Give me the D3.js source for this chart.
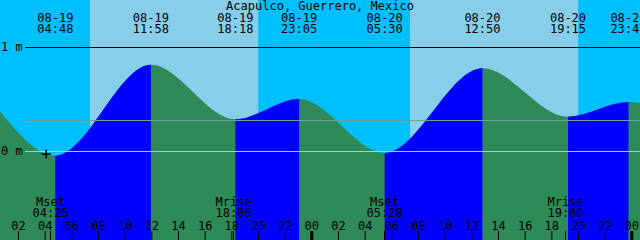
<!DOCTYPE html>
<html>
<head>
<meta charset="utf-8">
<script src="https://cdn.jsdelivr.net/npm/d3@7"></script>
<style>
  body { margin: 0; background: #fff; }
  svg { display: block; }
  text { font-family: "DejaVu Sans Mono", monospace; font-size: 12px; fill: #000; }
</style>
</head>
<body>
<svg id="chart" width="640" height="240"></svg>
<script>
// chart window
var windowTimes = ["08-19 00:39", "08-21 00:39"];
// highs and lows
var eventTimes = ["08-19 04:48", "08-19 11:58", "08-19 18:18", "08-19 23:05",
                  "08-20 05:30", "08-20 12:50", "08-20 19:15", "08-20 23:47"];
var eventLevels = [-0.045, 0.83, 0.305, 0.50, -0.02, 0.795, 0.33, 0.47];
var edgeLevels = [0.38, 0.46]; // level at left and right edge
// sun
var sunriseTimes = ["08-19 07:24", "08-20 07:24"];
var sunsetTimes = ["08-19 20:01", "08-20 20:01"];
// moon
var moonTimes = ["08-19 04:25", "08-19 18:06", "08-20 05:28", "08-20 19:00"];
var moonNames = ["Mset", "Mrise", "Mset", "Mrise"];
// level lines
var lineLevels = [1, 0.3, 0];
var lineLabels = ["1 m", "", "0 m"];
// mark
var markTime = "08-19 04:07";
var markLevel = -0.03;

var title = "Acapulco, Guerrero, Mexico";

function init() {
  var svg = d3.select("#chart");
  var width = 640, height = 240;
  var parse = d3.utcParse("%m-%d %H:%M");

  var x = d3.scaleUtc()
    .domain(windowTimes.map(parse))
    .range([0, width]);
  var y = d3.scaleLinear()
    .domain([0, 1])
    .range([151, 47]);

  // sky: night first, then day on top
  svg.append("rect")
     .attr("width", width).attr("height", height)
     .attr("fill", "#00BFFF");
  svg.selectAll(".day")
     .data(sunriseTimes)
     .enter()
     .append("rect")
     .attr("class", "day")
     .attr("x", function(d) { return x(parse(d)); })
     .attr("y", 0)
     .attr("width", function(d, i) { return x(parse(sunsetTimes[i])) - x(parse(d)); })
     .attr("height", height)
     .attr("fill", "#87CEEB");

  // tide
  var points = [{ t: parse(windowTimes[0]), v: edgeLevels[0] }];
  eventTimes.forEach(function(d, i) { points.push({ t: parse(d), v: eventLevels[i] }); });
  points.push({ t: parse(windowTimes[1]), v: edgeLevels[1] });

  var area = d3.area()
    .x(function(d) { return x(d.t); })
    .y0(height)
    .y1(function(d) { return y(d.v); })
    .curve(d3.curveMonotoneX);

  // flood = low -> high
  var floods = [];
  for (var i = 0; i < eventTimes.length - 1; i++) {
    if (eventLevels[i + 1] > eventLevels[i]) floods.push([eventTimes[i], eventTimes[i + 1]]);
  }
  var clip = svg.append("clipPath").attr("id", "flood-clip");
  clip.selectAll("rect")
     .data(floods)
     .enter()
     .append("rect")
     .attr("x", function(d) { return x(parse(d[0])); })
     .attr("y", 0)
     .attr("width", function(d) { return x(parse(d[1])) - x(parse(d[0])); })
     .attr("height", height);

  svg.append("path")
     .datum(points)
     .attr("d", area)
     .attr("fill", "#2E8B57");
  svg.append("path")
     .datum(points)
     .attr("d", area)
     .attr("fill", "#0000FF")
     .attr("clip-path", "url(#flood-clip)");

  // level lines
  var lineColors = ["#000000", "#6f9f9c", "#8fd2ec"];
  svg.selectAll(".level")
     .data(lineLevels)
     .enter()
     .append("line")
     .attr("class", "level")
     .attr("x1", 25).attr("x2", width)
     .attr("y1", function(d) { return Math.round(y(d)) + 0.5; })
     .attr("y2", function(d) { return Math.round(y(d)) + 0.5; })
     .attr("stroke", function(d, i) { return lineColors[i]; })
     .attr("stroke-width", 1);
  svg.selectAll(".level-label")
     .data(lineLevels)
     .enter()
     .append("text")
     .attr("class", "level-label")
     .attr("x", 1)
     .attr("y", function(d) { return y(d) + 4; })
     .text(function(d, i) { return lineLabels[i]; });

  // + mark
  var mx = x(parse(markTime)), my = y(markLevel);
  svg.append("path")
     .attr("d", "M" + (mx - 4.5) + "," + my + "H" + (mx + 4.5) + "M" + mx + "," + (my - 4.5) + "V" + (my + 4.5))
     .attr("stroke", "#000")
     .attr("stroke-width", 1.5);

  // title
  svg.append("text")
     .attr("x", width / 2)
     .attr("y", 10)
     .attr("text-anchor", "middle")
     .text(title);

  // event labels
  var ev = svg.selectAll(".event")
     .data(eventTimes)
     .enter()
     .append("g")
     .attr("class", "event")
     .attr("transform", function(d) { return "translate(" + x(parse(d)) + ",0)"; });
  ev.append("text")
     .attr("y", 22)
     .attr("text-anchor", "middle")
     .text(function(d) { return d.split(" ")[0]; });
  ev.append("text")
     .attr("y", 33)
     .attr("text-anchor", "middle")
     .text(function(d) { return d.split(" ")[1]; });

  // hour axis
  var axis = svg.append("g")
     .attr("transform", "translate(0," + height + ")")
     .call(d3.axisTop(x)
       .ticks(d3.utcHour.every(2))
       .tickFormat(d3.utcFormat("%H"))
       .tickSize(9)
       .tickPadding(1));
  axis.select(".domain").remove();
  axis.selectAll("text")
     .attr("font-family", null)
     .attr("font-size", null);
  axis.selectAll(".tick line")
     .attr("stroke", "#000")
     .attr("stroke-width", function(d) { return d.getUTCHours() == 0 ? 3 : 1; });

  // moon
  var moon = svg.selectAll(".moon")
     .data(moonTimes)
     .enter()
     .append("g")
     .attr("class", "moon")
     .attr("transform", function(d) { return "translate(" + (Math.round(x(parse(d))) + 0.5) + ",0)"; });
  moon.append("line")
     .attr("y1", 231).attr("y2", height)
     .attr("stroke", "#000");
  moon.append("text")
     .attr("y", 206)
     .attr("text-anchor", "middle")
     .text(function(d, i) { return moonNames[i]; });
  moon.append("text")
     .attr("y", 217)
     .attr("text-anchor", "middle")
     .text(function(d) { return d.split(" ")[1]; });
}

init();
</script>
</body>
</html>
